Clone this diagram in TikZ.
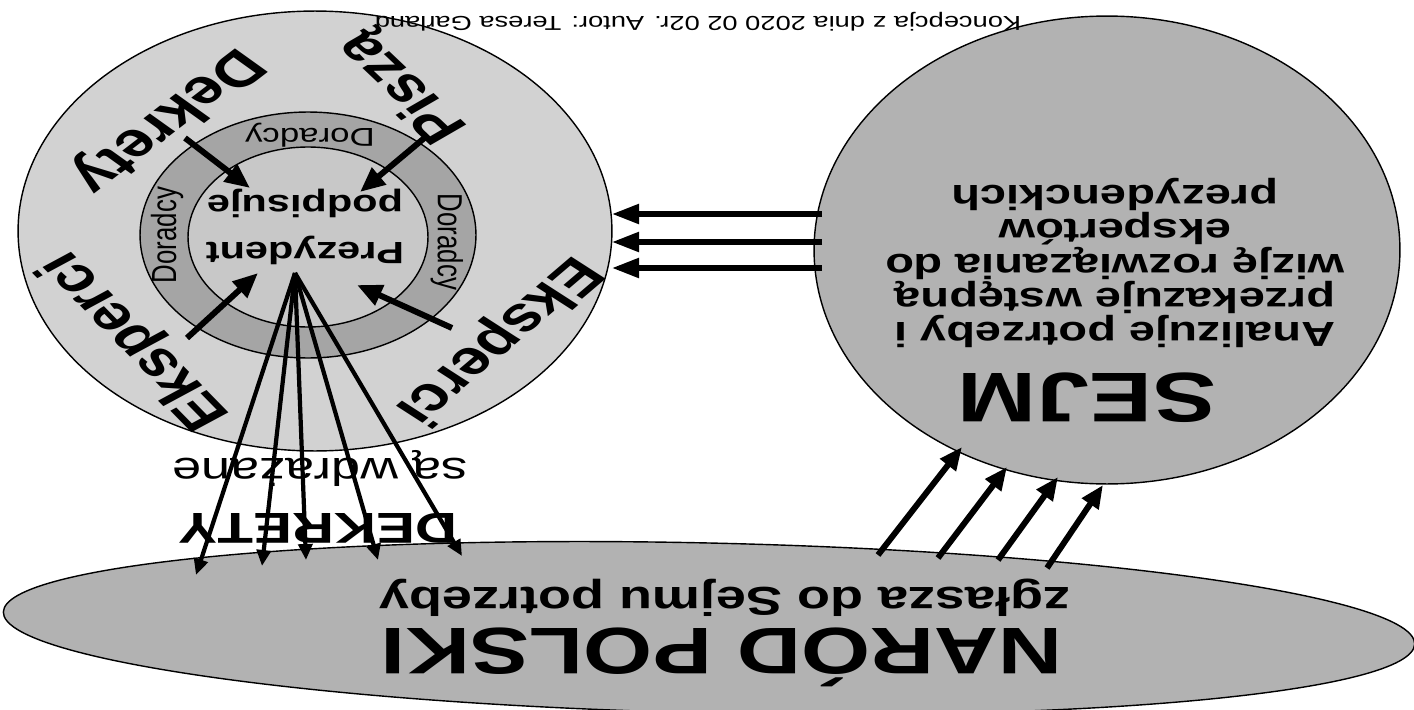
\documentclass[tikz,border=0pt]{standalone}
\usepackage{fontspec}
\setmainfont{Liberation Sans}
\usetikzlibrary{arrows.meta,shapes.geometric}
\definecolor{outergray}{RGB}{210,210,210}
\definecolor{ringgray}{RGB}{165,165,165}
\definecolor{innergray}{RGB}{200,200,200}
\definecolor{blobgray}{RGB}{178,178,178}
\tikzset{
  blob/.style={ellipse,draw=black,line width=0.8pt,inner sep=0pt},
  flip/.style={xscale=1.35,rotate=180,inner sep=0pt},
  tilted/.style={xscale=1.35,rotate=#1,inner sep=0pt},
  bigarrow/.style={-{Triangle[length=5mm,width=4.2mm]},line width=3.4pt},
  fanarrow/.style={-{Triangle[length=3.2mm,width=2.8mm]},line width=2.4pt},
}

\begin{document}
\begin{tikzpicture}[x=0.02cm,y=-0.02cm]
  \useasboundingbox (0,0) rectangle (1414,710);
  \node[blob,fill=blobgray,rotate=-1.3,minimum width=28.24cm,minimum height=3.4cm] (narod) at (709,628) {};
  \node[blob,fill=blobgray,minimum width=11.72cm,minimum height=9.36cm] (sejm) at (1107,250) {};
  \node[blob,fill=outergray,minimum width=11.88cm,minimum height=8.8cm] (outer) at (315,231) {};
  \node[blob,fill=ringgray,minimum width=6.72cm,minimum height=4.92cm] (ring) at (308,235) {};
  \node[blob,fill=innergray,minimum width=4.8cm,minimum height=3.6cm] (inner) at (308,237) {};

  \node[flip,font=\fontsize{11.5}{13}\selectfont] (caption) at (698,22) {Koncepcja z dnia 2020 02 02r. Autor: Teresa Garland};

  \node[flip,font=\bfseries\fontsize{37.5}{40}\selectfont] (narodtxt) at (722,657) {NARÓD POLSKI};
  \node[flip,font=\bfseries\fontsize{22.8}{25}\selectfont] (zglasza) at (725,598) {zgłasza do Sejmu potrzeby};

  \node[flip,font=\bfseries\fontsize{40}{44}\selectfont] (sejmtxt) at (1087,398) {SEJM};
  \node[flip,align=center,font=\bfseries\fontsize{19.8}{19.5}\selectfont] (sejmopis) at (1115,263) {Analizuje potrzeby i\\przekazuje wstępną\\wizję rozwiązania do\\ekspertów\\prezydenckich};

  \node[flip,align=center,font=\bfseries\fontsize{17.5}{27}\selectfont] (prez) at (305,227) {Prezydent\\podpisuje};
  \node[flip,font=\fontsize{14.7}{16}\selectfont] (dor1) at (310,135) {Doradcy};
  \node[tilted=90,font=\fontsize{14.7}{16}\selectfont] (dor2) at (167,235) {Doradcy};
  \node[tilted=-90,font=\fontsize{14.7}{16}\selectfont] (dor3) at (447,242) {Doradcy};

  \node[tilted=226,font=\bfseries\fontsize{28}{30}\selectfont] (dekrety) at (166,120) {Dekrety};
  \node[tilted=128,font=\bfseries\fontsize{28}{30}\selectfont] (pisza) at (404,86) {Piszą};
  \node[tilted=229,font=\bfseries\fontsize{28}{30}\selectfont] (eksp1) at (497,340) {Eksperci};
  \node[tilted=126,font=\bfseries\fontsize{28}{30}\selectfont] (eksp2) at (136,340) {Eksperci};

  \node[flip,font=\bfseries\fontsize{24.6}{26}\selectfont] (dekrety2) at (318,528) {DEKRETY};
  \node[flip,font=\fontsize{22}{24}\selectfont] (wdraz) at (320,468) {są wdrażane};

  \coordinate (dekA) at (185,138); \coordinate (dekB) at (250,188);
  \coordinate (pisA) at (428,135); \coordinate (pisB) at (360,192);
  \coordinate (ekA) at (452,328); \coordinate (ekB) at (357,285);
  \coordinate (ekC) at (187,338); \coordinate (ekD) at (258,273);
  \draw[bigarrow] (dekA)--(dekB); \draw[bigarrow] (pisA)--(pisB);
  \draw[bigarrow] (ekA)--(ekB); \draw[bigarrow] (ekC)--(ekD);

  \coordinate (apex) at (295,273);
  \foreach \n/\x/\y in {1/196/575,2/262/566,3/306/560,4/378/560,5/462/556} {
    \coordinate (fan\n) at (\x,\y);
    \draw[fanarrow] (apex)--(fan\n);
  }

  \foreach \n/\y in {1/214,2/242,3/268} {
    \coordinate (sa\n) at (822,\y); \coordinate (sb\n) at (612,\y);
    \draw[-{Triangle[length=5.4mm,width=3.8mm]},line width=3pt] (sa\n)--(sb\n);
  }

  \foreach \n/\xa/\ya/\xb/\yb in {1/878/555/962/447,2/938/558/1007/467,3/998/560/1058/477,4/1047/568/1103/485} {
    \coordinate (na\n) at (\xa,\ya); \coordinate (nb\n) at (\xb,\yb);
    \draw[-{Triangle[length=4.6mm,width=3.8mm]},line width=3.4pt] (na\n)--(nb\n);
  }
\end{tikzpicture}
\end{document}
